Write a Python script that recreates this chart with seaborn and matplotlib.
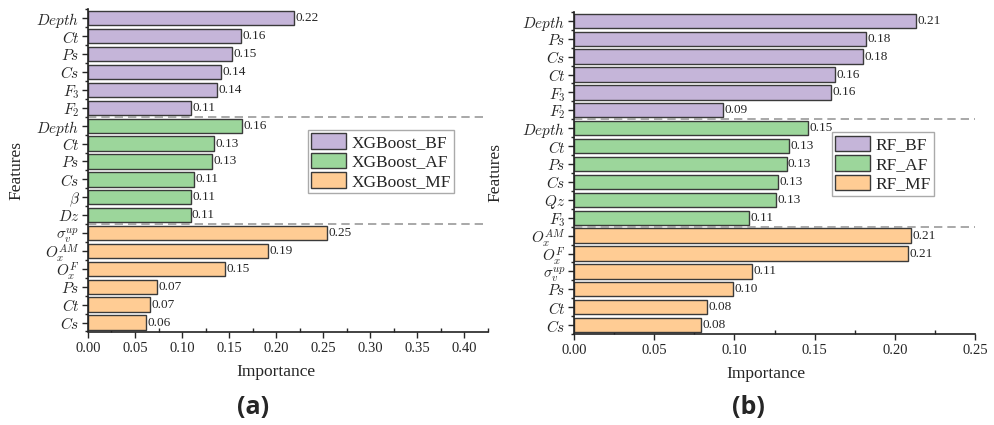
import numpy as np
import pandas as pd
import matplotlib
matplotlib.use("Agg")
import matplotlib.pyplot as plt
from matplotlib.patches import Patch
from matplotlib.ticker import MultipleLocator
import seaborn as sns

# ---- data ----
groups = ["BF", "AF", "MF"]
colors = ["#C5B5D9", "#9CD69B", "#FFCC94"]

xgb_features = [
    ["$Depth$", "$Ct$", "$Ps$", "$Cs$", "$F_3$", "$F_2$"],
    ["$Depth$", "$Ct$", "$Ps$", "$Cs$", r"$\beta$", "$Dz$"],
    [r"$\sigma_v^{up}$", "$O_x^{AM}$", "$O_x^{F}$", "$Ps$", "$Ct$", "$Cs$"],
]
xgb_values = [
    [0.219, 0.163, 0.153, 0.141, 0.137, 0.110],
    [0.164, 0.134, 0.132, 0.113, 0.110, 0.109],
    [0.254, 0.191, 0.146, 0.073, 0.066, 0.062],
]

rf_features = [
    ["$Depth$", "$Ps$", "$Cs$", "$Ct$", "$F_3$", "$F_2$"],
    ["$Depth$", "$Ct$", "$Ps$", "$Cs$", "$Qz$", "$F_3$"],
    ["$O_x^{AM}$", "$O_x^{F}$", r"$\sigma_v^{up}$", "$Ps$", "$Ct$", "$Cs$"],
]
rf_values = [
    [0.213, 0.182, 0.180, 0.163, 0.160, 0.093],
    [0.146, 0.134, 0.1325, 0.127, 0.126, 0.109],
    [0.210, 0.208, 0.111, 0.099, 0.083, 0.079],
]

sns.set_style("ticks")
plt.rcParams["font.family"] = ["Liberation Serif", "DejaVu Serif"]
plt.rcParams["mathtext.fontset"] = "cm"


def build_frame(features, values, model):
    rows = []
    for g, feats, vals in zip(groups, features, values):
        for f, v in zip(feats, vals):
            rows.append({"key": f"{g}_{len(rows)}", "label": f,
                         "group": f"{model}_{g}", "value": v})
    return pd.DataFrame(rows)


def draw_panel(ax, df, model, xmax, xstep, legend_pos):
    palette = dict(zip([f"{model}_{g}" for g in groups], colors))
    sns.barplot(data=df, x="value", y="key", hue="group", palette=palette,
                dodge=False, width=0.8, saturation=1, edgecolor="#3a3a3a",
                linewidth=1, legend=False, ax=ax)
    for cont in ax.containers:
        ax.bar_label(cont, fmt="%.2f", padding=1, fontsize=9.5)
    ax.set_yticks(range(len(df)))
    ax.set_yticklabels(df["label"], fontsize=11)
    ax.set_ylim(len(df) - 0.5, -0.5)
    ax.set_xlim(0, xmax)
    ax.xaxis.set_major_locator(MultipleLocator(xstep))
    ax.xaxis.set_minor_locator(MultipleLocator(xstep / 2))
    ax.xaxis.set_major_formatter(matplotlib.ticker.FormatStrFormatter("%.2f"))
    ax.set_yticks(np.arange(-0.5, len(df), 1), minor=True)
    ax.tick_params(axis="x", which="major", direction="out", length=4,
                   width=1, labelsize=10.5)
    ax.tick_params(axis="x", which="minor", direction="in", length=3, width=1)
    ax.tick_params(axis="y", which="major", direction="out", length=4,
                   width=1, pad=2)
    ax.tick_params(axis="y", which="minor", direction="out", length=2.5,
                   width=1)
    for b in (5.5, 11.5):
        ax.axhline(b, color="#999999", linestyle=(0, (5, 3)), linewidth=1.2)
    sns.despine(ax=ax)
    for s in ("left", "bottom"):
        ax.spines[s].set_linewidth(1.2)
        ax.spines[s].set_color("#222222")
    ax.set_xlabel("Importance", fontsize=12.5)
    ax.set_ylabel("Features", fontsize=12.5)
    handles = [Patch(facecolor=c, edgecolor="#3a3a3a", linewidth=1,
                     label=f"{model}_{g}") for g, c in zip(groups, colors)]
    ax.legend(handles=handles, loc="upper left", bbox_to_anchor=legend_pos,
              fontsize=12.5, frameon=True, fancybox=False, framealpha=1,
              edgecolor="#aaaaaa", handlelength=2.0, handleheight=1.0,
              labelspacing=0.1, borderpad=0.2, handletextpad=0.3,
              borderaxespad=0)


fig = plt.figure(figsize=(9.95, 4.25), dpi=100)
ax1 = fig.add_axes([0.0884, 0.220, 0.402, 0.758])
ax2 = fig.add_axes([0.5769, 0.214, 0.4030, 0.758])

draw_panel(ax1, build_frame(xgb_features, xgb_values, "XGBoost"),
           "XGBoost", 0.425, 0.05, (0.55, 0.626))
draw_panel(ax2, build_frame(rf_features, rf_values, "RF"),
           "RF", 0.25, 0.05, (0.643, 0.626))

ax1.xaxis.set_label_coords(0.47, -0.1)
ax2.xaxis.set_label_coords(0.479, -0.1)
ax1.yaxis.set_label_coords(-0.16, 0.5)
ax2.yaxis.set_label_coords(-0.177, 0.5)

fig.text(253 / 995, 0.042, "(a)", fontsize=18, fontweight="bold",
         family="Open Sans", ha="center", va="center")
fig.text(748 / 995, 0.042, "(b)", fontsize=18, fontweight="bold",
         family="Open Sans", ha="center", va="center")

fig.savefig("out.png", dpi=100)
